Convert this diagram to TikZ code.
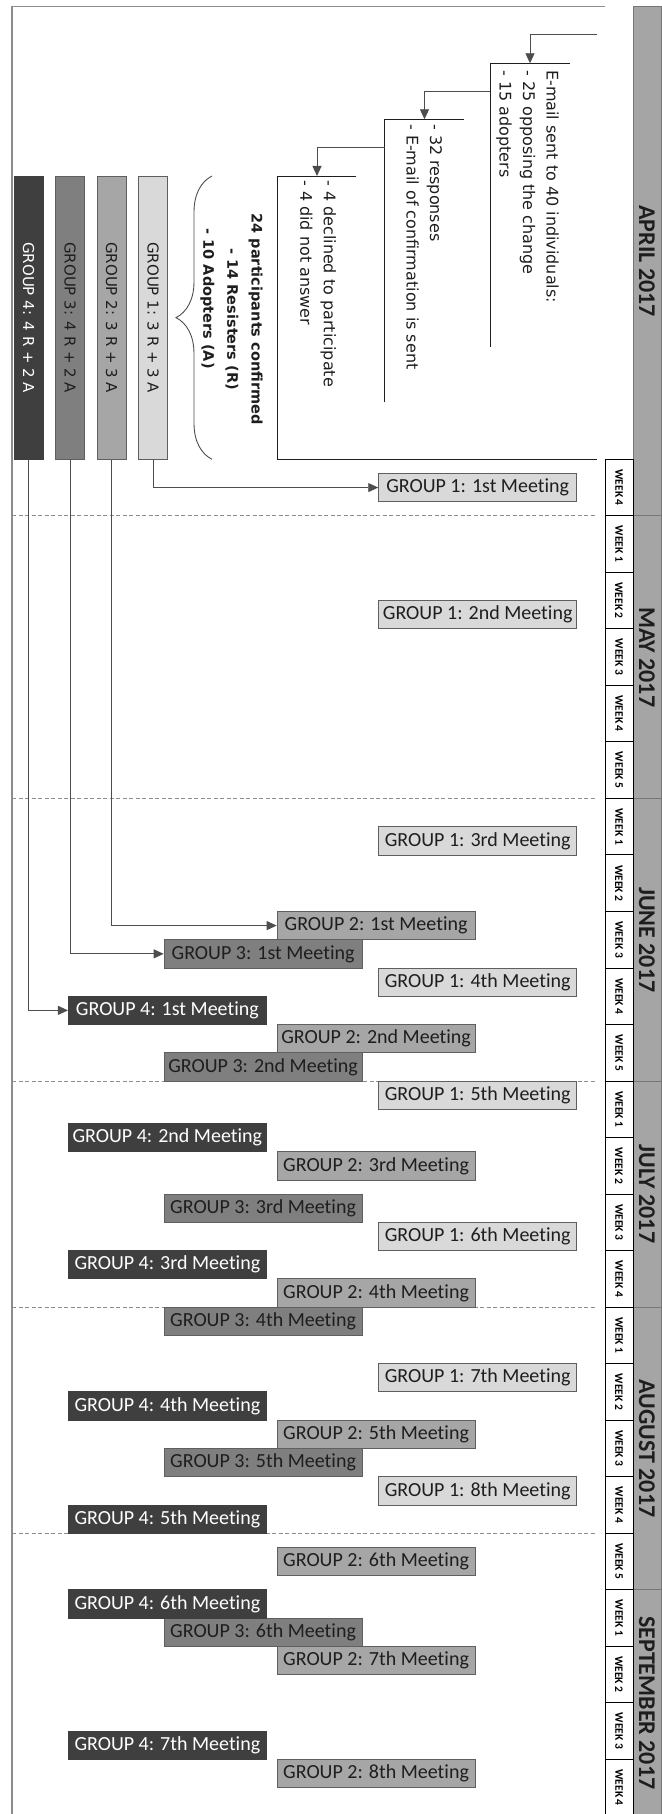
\documentclass[tikz,border=0pt]{standalone}
\usepackage{fontspec}
\setmainfont{DejaVu Sans}
\newfontfamily\calibri[Ligatures=NoCommon]{Carlito}
\usetikzlibrary{arrows.meta,decorations.pathreplacing}

\definecolor{grpone}{HTML}{D9D9D9}
\definecolor{grptwo}{HTML}{A6A6A6}
\definecolor{grpthree}{HTML}{7F7F7F}
\definecolor{grpfour}{HTML}{3F3F3F}
\definecolor{stripfill}{HTML}{A5A5A5}
\definecolor{stripedge}{HTML}{767676}
\definecolor{framegray}{HTML}{8C8C8C}
\definecolor{boxedge}{HTML}{5F5F5F}
\definecolor{ink}{HTML}{1E1E1E}
\definecolor{wire}{HTML}{4D4D4D}

\tikzset{
  flowtext/.style={rotate=-90, anchor=north west, align=left, inner sep=0pt, text=ink,
    font=\fontsize{16}{23.5}\selectfont},
  bracket/.style={draw=ink, line width=0.9pt},
  flowarrow/.style={draw=wire, line width=0.9pt, -{Triangle[length=10pt,width=9pt]}},
  grpbox/.style={rotate=-90, draw=boxedge, line width=0.8pt, minimum width=283.3pt,
    minimum height=28.6pt, inner sep=0pt, font=\fontsize{15}{18}\selectfont},
  meet/.style={draw=boxedge, line width=0.8pt, minimum width=198pt, minimum height=28.26pt,
    inner sep=0pt, font=\calibri\fontsize{20}{24}\selectfont},
  meetone/.style={meet, fill=grpone, text=ink},
  meettwo/.style={meet, fill=grptwo, text=ink},
  meetthree/.style={meet, fill=grpthree, text=ink},
  meetfour/.style={meet, fill=grpfour, draw=grpfour, text=white},
  monthcell/.style={rotate=-90, draw=stripedge, fill=stripfill, line width=1pt,
    minimum height=28pt, inner sep=0pt, text=ink,
    font=\calibri\bfseries\fontsize{24}{28}\selectfont},
  weekcell/.style={rotate=-90, draw=black, fill=white, line width=0.9pt,
    minimum width=56.52pt, minimum height=28pt, inner sep=0pt,
    font=\calibri\bfseries\fontsize{11.5}{13}\selectfont},
  gridline/.style={draw=framegray, dash pattern=on 4pt off 2.5pt, line width=0.8pt},
  framestyle/.style={draw=framegray, line width=1.2pt},
  gconn/.style={draw=wire, line width=0.9pt, -{Triangle[length=10pt,width=9pt]}},
  bracestyle/.style={draw=wire, line width=0.9pt, decorate,
    decoration={brace, amplitude=36pt}},
}

\begin{document}
\begin{tikzpicture}[x=1pt,y=-1pt]
\useasboundingbox (0,0) rectangle (661,1814);
\def\yz{459.3}
\def\hh{28.26}

% outer frame
\draw[framestyle] (12,1815) -- (12,6.5) -- (605,6.5);

% month strip
\foreach \nm/\lab/\a/\b in {apr/APRIL 2017/6.5/515.8, may/MAY 2017/515.8/798.4,
    jun/JUNE 2017/798.4/1081, jul/JULY 2017/1081/1307.1,
    aug/AUGUST 2017/1307.1/1589.7, sep/SEPTEMBER 2017/1589.7/1816}
  \node[monthcell, minimum width={\b-\a}] (\nm) at (647,{(\a+\b)/2}) {\lab};

% week cells
\foreach \w [count=\i from 0] in {4,1,2,3,4,5,1,2,3,4,5,1,2,3,4,1,2,3,4,5,1,2,3,4}
  \node[weekcell] (wk\i) at (619,{\yz+(2*\i+1)*\hh}) {WEEK \w};

% dashed week separators
\foreach \k in {2,12,22,30,38}
  \draw[gridline] (12,{\yz+\k*\hh}) -- (596.5,{\yz+\k*\hh});

% recruitment steps
\coordinate (s0) at (596.5,34.3);
\coordinate (in1) at (530,63.3);
\coordinate (o1) at (490.3,91);
\coordinate (in2) at (424.5,119.3);
\coordinate (o2) at (384.5,147.7);
\coordinate (in3) at (317,176);

\draw[bracket] (570,63.3) -- (490.3,63.3) -- (490.3,346.7);
\draw[bracket] (463.7,119.3) -- (384.5,119.3) -- (384.5,402.3);
\draw[bracket] (356,176) -- (277.4,176) -- (277.4,459.3) -- (596.5,459.3);

\draw[flowarrow] (s0) -| (in1);
\draw[flowarrow] (o1) -| (in2);
\draw[flowarrow] (o2) -| (in3);

\node[flowtext] (t1) at (559,70) {E-mail sent to 40 individuals:\\- 25 opposing the change\\- 15 adopters};
\node[flowtext] (t2) at (442.2,124) {- 32 responses\\- E-mail of confirmation is sent};
\node[flowtext] (t3) at (336.2,180) {- 4 declined to participate\\- 4 did not answer};

% participants brace
\draw[bracestyle] (212,459.3) -- (212,176);
\node[flowtext, font=\bfseries\fontsize{14.5}{24.2}\selectfont] (bt) at (262.9,213.3)
  {24 participants confirmed\\\hspace*{35pt}- 14 Resisters (R)\\\hspace*{15pt}- 10 Adopters (A)};

% groups
\node[grpbox, fill=grpfour, draw=grpfour, text=white] (g4) at (28.65,317.65) {GROUP 4: 4 R + 2 A};
\node[grpbox, fill=grpthree, text=ink] (g3) at (70,317.65) {GROUP 3: 4 R + 2 A};
\node[grpbox, fill=grptwo, text=ink] (g2) at (111.65,317.65) {GROUP 2: 3 R + 3 A};
\node[grpbox, fill=grpone, text=ink] (g1) at (153.15,317.65) {GROUP 1: 3 R + 3 A};

% meetings
\foreach \n/\k/\o in {1/1/1st,2/5.5/2nd,3/13.5/3rd,4/18.5/4th,5/22.5/5th,6/27.5/6th,7/32.5/7th,8/36.5/8th}
  \node[meetone] (m1-\n) at (477.65,{\yz+\k*\hh}) {GROUP 1: \o\ Meeting};
\foreach \n/\k/\o in {1/16.5/1st,2/20.5/2nd,3/25/3rd,4/29.5/4th,5/34.5/5th,6/39/6th,7/42.5/7th,8/46.5/8th}
  \node[meettwo] (m2-\n) at (376.05,{\yz+\k*\hh}) {GROUP 2: \o\ Meeting};
\foreach \n/\k/\o in {1/17.5/1st,2/21.5/2nd,3/26.5/3rd,4/30.5/4th,5/35.5/5th,6/41.5/6th}
  \node[meetthree] (m3-\n) at (263.05,{\yz+\k*\hh}) {GROUP 3: \o\ Meeting};
\foreach \n/\k/\o in {1/19.5/1st,2/24/2nd,3/28.5/3rd,4/33.5/4th,5/37.5/5th,6/40.5/6th,7/45.5/7th}
  \node[meetfour] (m4-\n) at (167.35,{\yz+\k*\hh}) {GROUP 4: \o\ Meeting};

% group to first meeting
\draw[gconn] (g1.east) |- (m1-1.west);
\draw[gconn] (g2.east) |- (m2-1.west);
\draw[gconn] (g3.east) |- (m3-1.west);
\draw[gconn] (g4.east) |- (m4-1.west);
\end{tikzpicture}
\end{document}
